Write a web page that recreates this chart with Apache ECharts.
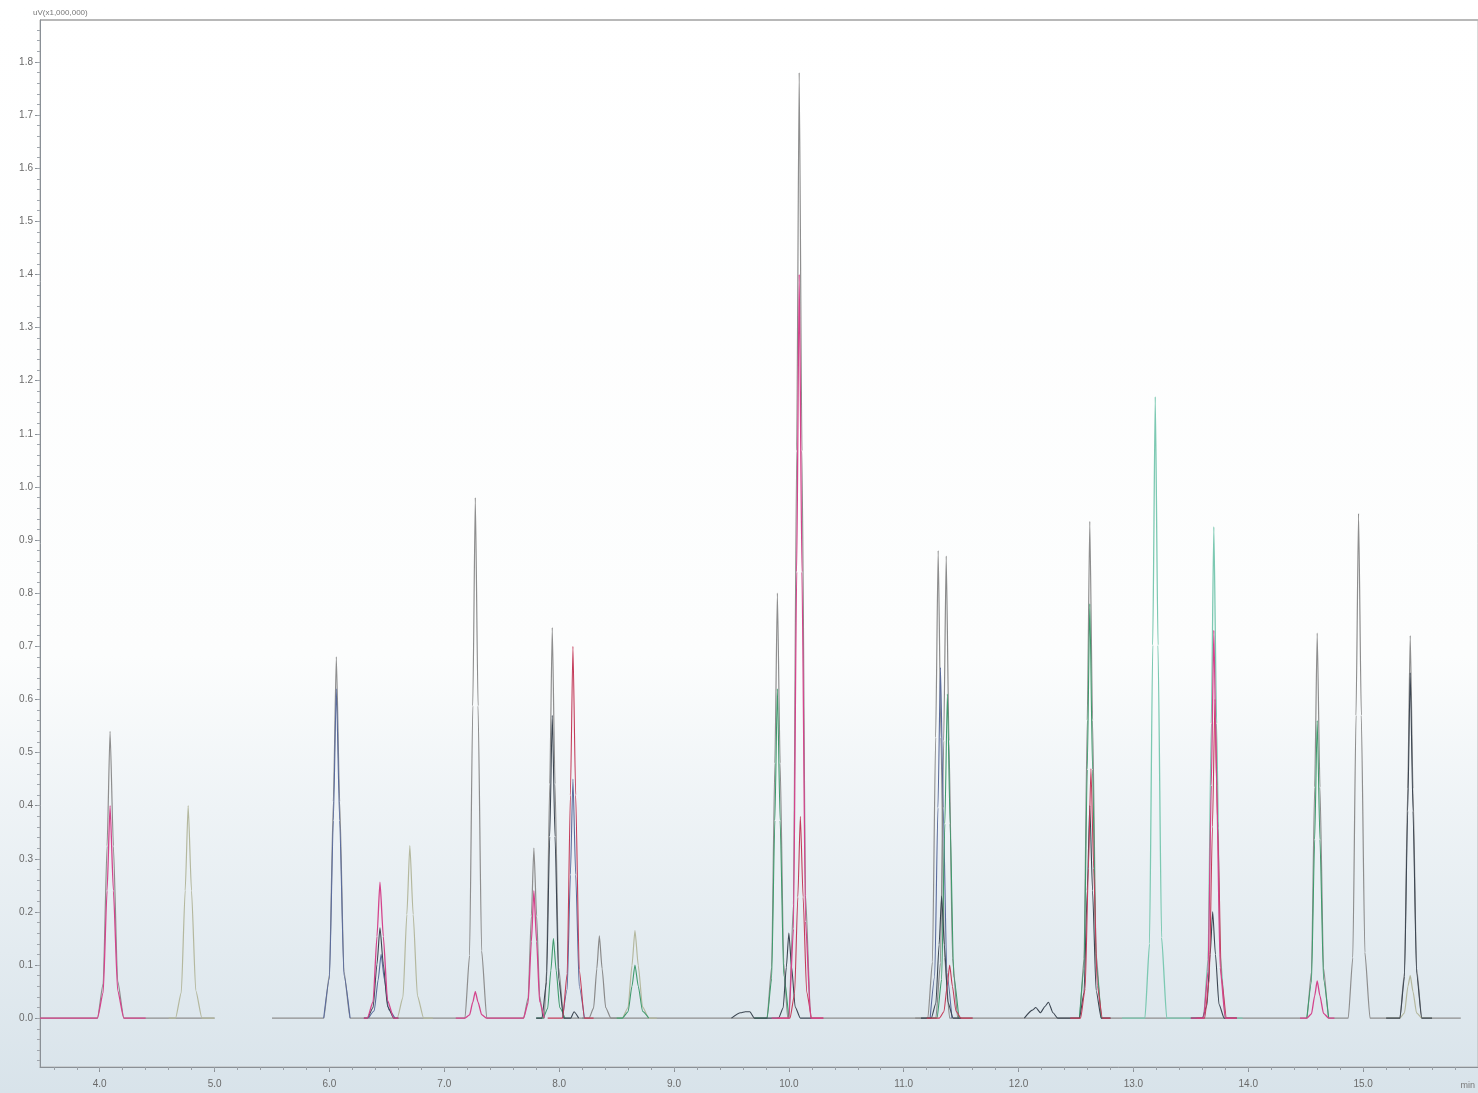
<!DOCTYPE html>
<html>
<head>
<meta charset="utf-8">
<script src="https://cdn.jsdelivr.net/npm/echarts@6/dist/echarts.min.js"></script>
<style>html,body{margin:0;padding:0;background:#fff}#c{width:1478px;height:1093px}</style>
</head>
<body>
<div id="c"></div>
<script>
// ---- data (retention time in min, intensity in uV x1,000,000) ----
const xTickLabels = [4.0,5.0,6.0,7.0,8.0,9.0,10.0,11.0,12.0,13.0,14.0,15.0];
const yTickLabels = [0.0,0.1,0.2,0.3,0.4,0.5,0.6,0.7,0.8,0.9,1.0,1.1,1.2,1.3,1.4,1.5,1.6,1.7,1.8];

const grayTrace = [
[3.48,0],[3.98,0],[4.03,0.065],[4.064,0.324],[4.09,0.54],[4.119,0.324],[4.156,0.07],[4.21,0],[5.0,0],[5.25,'-'],
[5.5,0],[5.95,0],[6.0,0.082],[6.034,0.408],[6.06,0.68],[6.089,0.408],[6.126,0.088],[6.18,0],
[7.18,0],[7.22,0.118],[7.248,0.588],[7.27,0.98],[7.294,0.588],[7.325,0.127],[7.37,0],
[7.69,0],[7.73,0.038],[7.758,0.192],[7.78,0.32],[7.804,0.192],[7.83,0.042],[7.86,0],
[7.87,0],[7.89,0.088],[7.918,0.441],[7.94,0.735],[7.964,0.441],[7.995,0.096],[8.04,0],
[9.81,0],[9.85,0.096],[9.878,0.48],[9.90,0.80],[9.924,0.48],[9.955,0.104],[9.99,0],
[10.0,0],[10.04,0.214],[10.068,1.068],[10.09,1.78],[10.114,1.068],[10.145,0.231],[10.19,0],
[11.21,0],[11.25,0.106],[11.278,0.528],[11.30,0.88],[11.324,0.528],[11.355,0.114],[11.40,0],
[12.53,0],[12.57,0.112],[12.598,0.561],[12.62,0.935],[12.644,0.561],[12.675,0.122],[12.72,0],
[14.51,0],[14.55,0.087],[14.578,0.435],[14.60,0.725],[14.624,0.435],[14.655,0.094],[14.70,0],
[14.87,0],[14.91,0.114],[14.938,0.57],[14.96,0.95],[14.984,0.57],[15.015,0.124],[15.06,0],
[15.32,0],[15.36,0.086],[15.388,0.432],[15.41,0.72],[15.434,0.432],[15.465,0.094],[15.51,0],[15.85,0]
];

const oliveTrace = [
[4.6,0],[4.66,0],[4.71,0.048],[4.744,0.24],[4.77,0.40],[4.799,0.24],[4.836,0.052],[4.89,0],[5.0,0],[5.2,'-'],
[6.55,0],[6.59,0],[6.64,0.039],[6.674,0.195],[6.70,0.325],[6.729,0.195],[6.766,0.042],[6.82,0],[6.9,0],[7.0,'-'],
[8.5,0],[8.55,0],[8.60,0.02],[8.634,0.099],[8.66,0.165],[8.689,0.099],[8.726,0.021],[8.78,0],[8.85,0],[9.0,'-'],
[15.2,0],[15.32,0],[15.36,0.01],[15.39,0.06],[15.41,0.08],[15.434,0.05],[15.465,0.01],[15.51,0],[15.6,0]
];

const darkGrayTrace = [
[8.2,0],[8.26,0],[8.30,0.019],[8.328,0.093],[8.35,0.155],[8.374,0.093],[8.405,0.02],[8.45,0],[8.5,0],[8.6,'-'],
[11.1,0],[11.28,0],[11.32,0.104],[11.348,0.522],[11.37,0.87],[11.394,0.522],[11.425,0.113],[11.47,0],[11.6,0]
];

const tealTrace = [
[12.9,0],[13.10,0],[13.14,0.14],[13.168,0.702],[13.19,1.17],[13.214,0.702],[13.245,0.152],[13.29,0],[13.5,0],
[13.61,0],[13.65,0.111],[13.678,0.555],[13.70,0.925],[13.724,0.555],[13.755,0.12],[13.80,0],[13.95,0]
];

const magentaTrace = [
[3.48,0],[3.98,0],[4.03,0.048],[4.064,0.24],[4.09,0.40],[4.119,0.24],[4.156,0.052],[4.21,0],[4.4,0],[4.5,'-'],
[6.3,0],[6.33,0],[6.38,0.031],[6.414,0.154],[6.44,0.256],[6.469,0.154],[6.506,0.033],[6.56,0],[6.6,0],[6.8,'-'],
[7.1,0],[7.18,0],[7.22,0.006],[7.248,0.03],[7.27,0.05],[7.294,0.03],[7.325,0.0065],[7.37,0],
[7.69,0],[7.73,0.029],[7.758,0.144],[7.78,0.24],[7.804,0.144],[7.83,0.031],[7.87,0],[7.9,'-'],
[9.85,0],[10.0,0],[10.04,0.168],[10.068,0.84],[10.09,1.40],[10.114,0.84],[10.145,0.182],[10.19,0],[10.3,0],[10.4,'-'],
[13.5,0],[13.61,0],[13.65,0.088],[13.678,0.438],[13.70,0.73],[13.724,0.438],[13.755,0.095],[13.80,0],[13.9,0],[14.0,'-'],
[14.45,0],[14.51,0],[14.55,0.008],[14.578,0.042],[14.60,0.07],[14.624,0.042],[14.655,0.009],[14.70,0],[14.75,0]
];

const redTrace = [
[7.9,0],[8.03,0],[8.07,0.084],[8.098,0.42],[8.12,0.70],[8.144,0.42],[8.175,0.091],[8.22,0],[8.3,0],[8.4,'-'],
[9.9,0],[10.01,0],[10.05,0.046],[10.078,0.228],[10.10,0.38],[10.124,0.228],[10.155,0.049],[10.2,0],[10.3,0],[10.4,'-'],
[11.2,0],[11.31,0],[11.35,0.012],[11.378,0.06],[11.40,0.10],[11.424,0.06],[11.455,0.013],[11.5,0],[11.6,0],[11.7,'-'],
[12.45,0],[12.54,0],[12.58,0.056],[12.608,0.282],[12.63,0.47],[12.654,0.282],[12.685,0.061],[12.73,0],[12.8,0],[12.9,'-'],
[13.55,0],[13.62,0],[13.66,0.072],[13.688,0.36],[13.71,0.60],[13.734,0.36],[13.765,0.078],[13.81,0],[13.9,0]
];

const slateTrace = [
[6.3,0],[6.33,0],[6.38,0.02],[6.414,0.102],[6.44,0.17],[6.469,0.102],[6.506,0.022],[6.56,0],[6.6,0],[6.7,'-'],
[7.8,0],[7.85,0],[7.89,0.068],[7.918,0.342],[7.94,0.57],[7.964,0.342],[7.995,0.074],[8.04,0],[8.1,0],[8.13,0.012],[8.17,0],[8.2,'-'],
[9.5,0],[9.58,0.01],[9.62,0.012],[9.66,0.012],[9.7,0],[9.91,0],[9.95,0.019],[9.978,0.096],[10.0,0.16],[10.024,0.096],[10.055,0.021],[10.1,0],[10.2,0],[10.3,'-'],
[11.15,0],[11.24,0],[11.28,0.028],[11.308,0.138],[11.33,0.23],[11.354,0.138],[11.385,0.03],[11.43,0],[11.5,0],[11.7,'-'],
[12.05,0],[12.12,0.015],[12.15,0.02],[12.19,0.01],[12.23,0.022],[12.26,0.03],[12.3,0.01],[12.34,0],
[12.53,0],[12.57,0.048],[12.598,0.24],[12.62,0.40],[12.644,0.24],[12.675,0.052],[12.72,0],[12.8,0],[12.9,'-'],
[13.5,0],[13.6,0],[13.64,0.024],[13.668,0.12],[13.69,0.20],[13.714,0.12],[13.745,0.026],[13.79,0],[13.9,0],[14.0,'-'],
[15.2,0],[15.32,0],[15.36,0.078],[15.388,0.39],[15.41,0.65],[15.434,0.39],[15.465,0.085],[15.51,0],[15.6,0]
];

const greenTrace = [
[7.8,0],[7.86,0],[7.90,0.018],[7.928,0.09],[7.95,0.15],[7.974,0.09],[8.005,0.02],[8.05,0],[8.1,'-'],
[8.5,0],[8.55,0],[8.60,0.012],[8.634,0.06],[8.66,0.10],[8.689,0.06],[8.726,0.013],[8.78,0],[8.85,'-'],
[9.7,0],[9.81,0],[9.85,0.074],[9.878,0.372],[9.90,0.62],[9.924,0.372],[9.955,0.081],[10.0,0],[10.1,'-'],
[11.2,0],[11.29,0],[11.33,0.073],[11.358,0.366],[11.38,0.61],[11.404,0.366],[11.435,0.079],[11.48,0],[11.6,'-'],
[12.53,0],[12.57,0.094],[12.598,0.468],[12.62,0.78],[12.644,0.468],[12.675,0.101],[12.72,0],[12.8,'-'],
[14.51,0],[14.55,0.067],[14.578,0.336],[14.60,0.56],[14.624,0.336],[14.655,0.073],[14.70,0]
];

const blueTrace = [
[5.95,0],[6.0,0.074],[6.034,0.372],[6.06,0.62],[6.089,0.372],[6.126,0.081],[6.18,0],[6.25,'-'],
[6.34,0],[6.39,0.014],[6.424,0.072],[6.45,0.12],[6.479,0.072],[6.516,0.016],[6.57,0],[6.7,'-'],
[8.03,0],[8.07,0.054],[8.098,0.27],[8.12,0.45],[8.144,0.27],[8.175,0.059],[8.22,0],[8.3,'-'],
[11.23,0],[11.27,0.079],[11.298,0.396],[11.32,0.66],[11.344,0.396],[11.375,0.086],[11.42,0]
];

// ---- chart ----
const X_MIN = 3.48, X_MAX = 16.0, Y_MIN = -0.092, Y_MAX = 1.879;
const xMinor = []; for (let i = 18; i <= 80; i++) xMinor.push(+(i * 0.2).toFixed(2));
const yMinor = []; for (let i = -4; i <= 93; i++) yMinor.push(+(i * 0.02).toFixed(2));

const labelStyle = {color:'#6a6a6a', fontSize:10, fontFamily:'Liberation Sans, DejaVu Sans, sans-serif'};

function trace(name, data, color, width, z) {
  return {name, type:'line', data, xAxisIndex:0, yAxisIndex:0, showSymbol:false, symbol:'none',
    smooth:0.2, smoothMonotone:'x',
    connectNulls:false, lineStyle:{color, width:width||1}, z:z||2, animation:false};
}

const chart = echarts.init(document.getElementById('c'), null, {renderer:'canvas'});
chart.setOption({
  animation:false,
  backgroundColor:{type:'linear', x:0, y:0, x2:0, y2:1, colorStops:[
    {offset:0, color:'#ffffff'},{offset:0.6, color:'#fcfdfd'},{offset:0.74, color:'#eef3f6'},{offset:1, color:'#d8e3ea'}]},
  grid:{left:40, right:0, top:20, bottom:26, show:true, borderColor:'#b5b5b5', borderWidth:1, backgroundColor:'transparent'},
  xAxis:[
    {type:'value', min:X_MIN, max:X_MAX, position:'bottom',
     axisLine:{show:true, onZero:false, lineStyle:{color:'#8a9096', width:1}},
     axisTick:{show:true, customValues:xTickLabels, length:5, lineStyle:{color:'#8a9096'}},
     axisLabel:{show:true, customValues:xTickLabels, formatter:v=>v.toFixed(1), margin:12, ...labelStyle},
     splitLine:{show:false}},
    {type:'value', min:X_MIN, max:X_MAX, position:'bottom',
     axisLine:{show:false, onZero:false},
     axisTick:{show:true, customValues:xMinor, length:3, lineStyle:{color:'#9aa0a6'}},
     axisLabel:{show:false}, splitLine:{show:false}}
  ],
  yAxis:[
    {type:'value', min:Y_MIN, max:Y_MAX, position:'left',
     axisLine:{show:true, onZero:false, lineStyle:{color:'#8a9096', width:1}},
     axisTick:{show:true, customValues:yTickLabels, length:5, lineStyle:{color:'#8a9096'}},
     axisLabel:{show:true, customValues:yTickLabels, formatter:v=>v.toFixed(1), margin:7, ...labelStyle},
     splitLine:{show:false}},
    {type:'value', min:Y_MIN, max:Y_MAX, position:'left',
     axisLine:{show:false, onZero:false},
     axisTick:{show:true, customValues:yMinor, length:3, lineStyle:{color:'#a0a6ac'}},
     axisLabel:{show:false}, splitLine:{show:false}}
  ],
  graphic:[
    {type:'text', left:33, top:9, style:{text:'uV(x1,000,000)', fill:'#777', fontSize:8, fontFamily:'Liberation Sans, sans-serif'}},
    {type:'text', right:3, bottom:3, style:{text:'min', fill:'#777', fontSize:9, fontFamily:'Liberation Sans, sans-serif'}},
    {type:'line', shape:{x1:40, y1:20, x2:1478, y2:20}, style:{stroke:'#b8b8b8', lineWidth:2}}
  ],
  series:[
    trace('gray', grayTrace, '#8e8e8e', 1.2, 2),
    trace('olive', oliveTrace, '#b4b89e', 1.2, 3),
    trace('gray2', darkGrayTrace, '#8a8a8a', 1.2, 3),
    trace('teal', tealTrace, '#7cc9b2', 1.3, 4),
    trace('blue', blueTrace, '#5a6b9c', 1.1, 5),
    trace('green', greenTrace, '#3f9a6c', 1.1, 6),
    trace('slate', slateTrace, '#3c4652', 1.1, 7),
    trace('red', redTrace, '#c43c5a', 1.1, 8),
    trace('magenta', magentaTrace, '#d4448c', 1.3, 9)
  ]
});
</script>
</body>
</html>
